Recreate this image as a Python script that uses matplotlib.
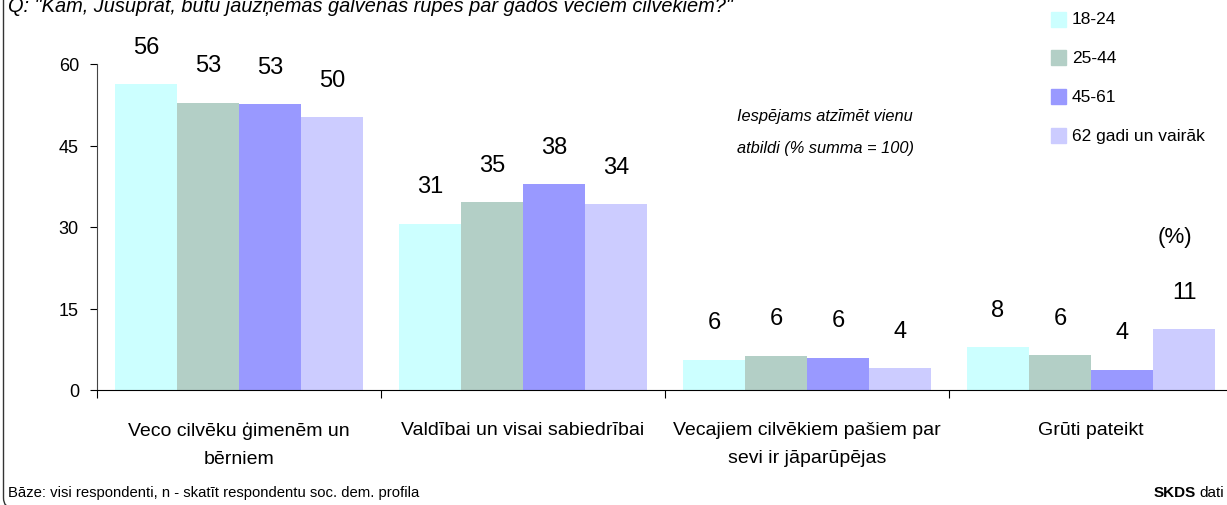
import matplotlib.pyplot as plt
import numpy as np
from matplotlib.patches import FancyBboxPatch

plt.rcParams['font.family'] = ['Liberation Sans', 'DejaVu Sans']

# Data
categories = ['Veco cilvēku ģimenēm un\nbērniem', 'Valdībai un visai sabiedrībai',
              'Vecajiem cilvēkiem pašiem par\nsevi ir jāparūpējas', 'Grūti pateikt']
series = ['18-24', '25-44', '45-61', '62 gadi un vairāk']
v_18_24 = [56.3, 30.6, 5.6, 7.9]
v_25_44 = [52.9, 34.6, 6.3, 6.4]
v_45_61 = [52.6, 37.9, 5.9, 3.7]
v_62 = [50.2, 34.2, 4.0, 11.2]
values = [v_18_24, v_25_44, v_45_61, v_62]
colors = ['#CCFFFF', '#B3CFC6', '#9999FF', '#CCCCFF']
yticks = [0, 15, 30, 45, 60]

W, H = 1227, 506
fig = plt.figure(figsize=(W / 100, H / 100), dpi=100)
ax = fig.add_axes([97 / W, 115 / H, 1136 / W, 326 / H])

x = np.arange(len(categories))
w = 62 / 284
for i, (vals, c) in enumerate(zip(values, colors)):
    pos = x + (i - 1.5) * w
    ax.bar(pos, vals, width=w, color=c, edgecolor='none')
    for p, v in zip(pos, vals):
        ax.annotate(f'{v:.0f}', (p, v), xytext=(0, 27), textcoords='offset points',
                    ha='center', va='center', fontsize=17)

ax.set_xlim(-0.5, len(categories) - 0.5)
ax.set_ylim(0, 60)
ax.set_yticks(yticks)
ax.tick_params(axis='y', direction='out', length=5, labelsize=13, pad=8)
ax.set_xticks(np.arange(len(categories) + 1) - 0.5)
ax.set_xticklabels([])
ax.tick_params(axis='x', direction='out', length=6)
for xi, lab in zip(x, categories):
    ax.text(xi, -0.095, lab, transform=ax.get_xaxis_transform(), ha='center', va='top',
            fontsize=14, linespacing=1.85)
for s in ['top', 'right']:
    ax.spines[s].set_visible(False)
ax.spines['left'].set_color('#444444')
ax.spines['bottom'].set_color('black')

# legend drawn by hand
for i, (s, c) in enumerate(zip(series, colors)):
    yy = H - (20 + i * 38.7)
    fig.patches.append(plt.Rectangle((1051 / W, (yy - 7.5) / H), 15 / W, 15 / H,
                                     transform=fig.transFigure, color=c))
    fig.text(1072 / W, yy / H, s, fontsize=12.5, va='center', ha='left')

fig.text(737 / W, (H - 117) / H, 'Iespējams atzīmēt vienu', fontsize=11.8, style='italic',
         va='center')
fig.text(737 / W, (H - 148) / H, 'atbildi (% summa = 100)', fontsize=11.8, style='italic',
         va='center')
fig.text(1175 / W, (H - 238) / H, '(%)', fontsize=16, ha='center', va='center')

fig.text(8 / W, 1 - 6 / H,
         'Q: "Kam, Jūsuprāt, būtu jāuzņemas galvenās rūpes par gados veciem cilvēkiem?"',
         fontsize=14.4, style='italic', va='center')
fig.text(8 / W, 13 / H, 'Bāze: visi respondenti, n - skatīt respondentu soc. dem. profila',
         fontsize=10.7, va='center')
fig.text(1196 / W, 13 / H, 'SKDS', fontsize=11, weight='bold', va='center', ha='right')
fig.text(1199 / W, 13 / H, 'dati', fontsize=11, va='center', ha='left')

frame = FancyBboxPatch((3.5, -3), 1400, 600, boxstyle='round,pad=0,rounding_size=10',
                       transform=None, fill=False, edgecolor='#333333', linewidth=1)
fig.patches.append(frame)

fig.savefig('out.png', dpi=100)
